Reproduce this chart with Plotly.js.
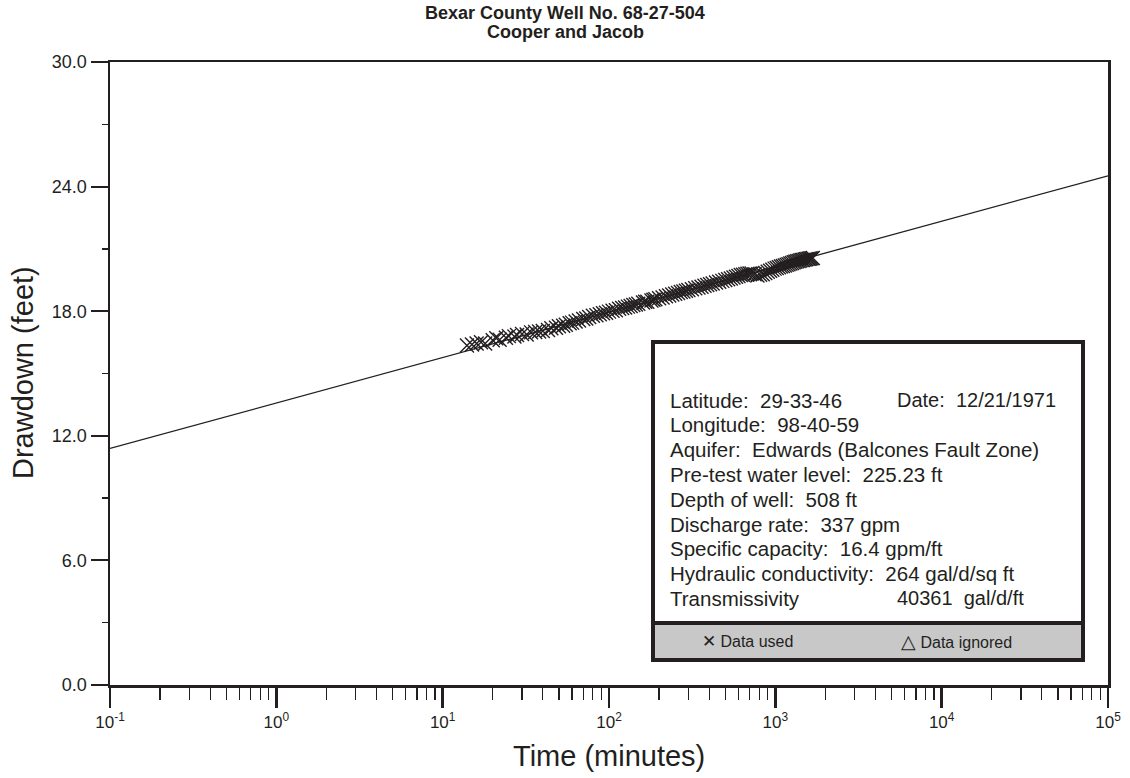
<!DOCTYPE html>
<html>
<head>
<meta charset="utf-8">
<script src="https://cdn.plot.ly/plotly-3.0.1.min.js"></script>
<style>html,body{margin:0;padding:0;background:#fff;}#chart{width:1130px;height:778px;}</style>
</head>
<body>
<div id="chart"></div>
<script>
// ---- data ----
const timeMinutes = [14,15,16,17,18,20,21,22,24,25,27,28,30,32,34,36,38,40,43,45,48,50,53,55,58,60,63,66,70,73,76,80,84,88,92,96,100,105,110,115,120,125,130,135,140,145,150,160,165,170,180,185,190,200,210,220,230,240,250,260,270,280,290,300,315,330,345,360,375,390,405,420,440,460,480,500,520,540,560,580,600,620,640,660,680,700,720,750,780,810,840,870,900,930,960,990,1020,1050,1080,1110,1140,1170,1200,1230,1260,1290,1320,1350,1380,1410,1440,1470,1500,1530,1560,1590,1620,1650,1680];
const drawdownFeet = [16.35,16.40,16.45,16.50,16.45,16.60,16.70,16.62,16.72,16.80,16.78,16.85,16.90,16.88,16.98,17.00,17.02,17.05,17.10,17.18,17.20,17.28,17.30,17.35,17.42,17.45,17.50,17.55,17.62,17.65,17.72,17.78,17.80,17.85,17.90,17.93,17.98,18.02,18.05,18.12,18.15,18.18,18.22,18.25,18.30,18.32,18.36,18.42,18.45,18.46,18.52,18.55,18.58,18.62,18.66,18.72,18.76,18.80,18.84,18.88,18.92,18.95,18.98,19.02,19.06,19.10,19.14,19.18,19.22,19.26,19.30,19.33,19.38,19.42,19.46,19.50,19.54,19.58,19.62,19.66,19.70,19.74,19.76,19.78,19.80,19.82,19.82,19.78,19.72,19.75,19.78,19.84,19.90,19.95,20.00,20.05,20.08,20.12,20.15,20.18,20.20,20.24,20.26,20.30,20.32,20.36,20.38,20.40,20.42,20.44,20.46,20.47,20.49,20.50,20.52,20.53,20.54,20.55,20.56];
const fitTimes = [0.1, 100000];
const fitDrawdown = [11.39, 24.52];
const xTickVals = [0.1, 1, 10, 100, 1000, 10000, 100000];
const xTickText = ['10<sup>-1</sup>','10<sup>0</sup>','10<sup>1</sup>','10<sup>2</sup>','10<sup>3</sup>','10<sup>4</sup>','10<sup>5</sup>'];
const yTickVals = [0, 6, 12, 18, 24, 30];
const yTickText = ['0.0','6.0','12.0','18.0','24.0','30.0'];
const titleLines = ['Bexar County Well No. 68-27-504', 'Cooper and Jacob'];
const xTitle = 'Time (minutes)';
const yTitle = 'Drawdown (feet)';
const infoLines = [
  'Latitude:  29-33-46',
  'Longitude:  98-40-59',
  'Aquifer:  Edwards (Balcones Fault Zone)',
  'Pre-test water level:  225.23 ft',
  'Depth of well:  508 ft',
  'Discharge rate:  337 gpm',
  'Specific capacity:  16.4 gpm/ft',
  'Hydraulic conductivity:  264 gal/d/sq ft',
  'Transmissivity'
];
const dateText = 'Date:  12/21/1971';
const transValue = '40361  gal/d/ft';
const legendUsed = 'Data used';
const legendIgnored = 'Data ignored';

// minor log ticks at 2..9 within each decade
const minorTickVals = [];
for (let k = -1; k < 5; k++) for (let d = 2; d <= 9; d++) minorTickVals.push(d * Math.pow(10, k));

// ---- layout helpers ----
const INK = '#231f20';
const FONT = 'Liberation Sans, Arial, Helvetica, sans-serif';
const NARROW = 'Liberation Sans Narrow, Arial Narrow, Liberation Sans, Arial, sans-serif';
const L = 110, R = 1108, T = 62, B = 685;
const px2x = p => (p - L) / (R - L);
const py2y = p => (B - p) / (B - T);

const annotations = [];
infoLines.forEach((txt, i) => {
  annotations.push({xref:'paper', yref:'paper', x: px2x(668), y: py2y(400 + i*24.8),
    xanchor:'left', yanchor:'middle', showarrow:false, text: txt,
    font:{family:FONT, size:20.5, color:INK}});
});
annotations.push({xref:'paper', yref:'paper', x: px2x(895), y: py2y(400),
  xanchor:'left', yanchor:'middle', showarrow:false, text: dateText,
  font:{family:FONT, size:20, color:INK}});
annotations.push({xref:'paper', yref:'paper', x: px2x(895), y: py2y(400 + 8*24.8),
  xanchor:'left', yanchor:'middle', showarrow:false, text: transValue,
  font:{family:FONT, size:20, color:INK}});
annotations.push({xref:'paper', yref:'paper', x: px2x(700), y: py2y(641),
  xanchor:'left', yanchor:'middle', showarrow:false,
  text: '<span style="font-size:17px">\u2715</span> ' + legendUsed,
  font:{family:FONT, size:16, color:INK}});
annotations.push({xref:'paper', yref:'paper', x: px2x(899), y: py2y(641),
  xanchor:'left', yanchor:'middle', showarrow:false,
  text: '<span style="font-size:19px">\u25B3</span> ' + legendIgnored,
  font:{family:FONT, size:16, color:INK}});
// axis titles
annotations.push({xref:'paper', yref:'paper', x: 0.5, y: py2y(756),
  xanchor:'center', yanchor:'middle', showarrow:false, text: xTitle,
  font:{family:FONT, size:29, color:INK}});
annotations.push({xref:'paper', yref:'paper', x: px2x(23), y: py2y(373),
  xanchor:'center', yanchor:'middle', showarrow:false, text: yTitle, textangle:-90,
  font:{family:FONT, size:29, color:INK}});
// chart title (two lines, tight spacing)
annotations.push({xref:'paper', yref:'paper', x: px2x(565), y: py2y(13),
  xanchor:'center', yanchor:'middle', showarrow:false, text: '<b>' + titleLines[0] + '</b>',
  font:{family:NARROW, size:18, color:INK}});
annotations.push({xref:'paper', yref:'paper', x: px2x(565), y: py2y(32),
  xanchor:'center', yanchor:'middle', showarrow:false, text: '<b>' + titleLines[1] + '</b>',
  font:{family:NARROW, size:18, color:INK}});

const shapes = [
  {type:'rect', xref:'paper', yref:'paper', x0: px2x(653), x1: px2x(1083), y0: py2y(660), y1: py2y(342),
   fillcolor:'#ffffff', line:{color:INK, width:4}},
  {type:'rect', xref:'paper', yref:'paper', x0: px2x(653), x1: px2x(1083), y0: py2y(660), y1: py2y(623),
   fillcolor:'#c8c8c8', line:{color:INK, width:4}}
];

const traces = [
  {x: fitTimes, y: fitDrawdown, type:'scatter', mode:'lines', line:{color:INK, width:1.3}, hoverinfo:'skip'},
  {x: timeMinutes, y: drawdownFeet, type:'scatter', mode:'markers',
   marker:{symbol:'x-thin-open', size:14, line:{color:INK, width:1.4}, color:INK}}
];

const layout = {
  width:1130, height:778, showlegend:false,
  paper_bgcolor:'#fff', plot_bgcolor:'#fff',
  margin:{l:L, r:1130-R, t:T, b:778-B},
  xaxis:{type:'log', range:[-1,5], showgrid:false, zeroline:false,
    showline:true, linecolor:INK, linewidth:2.5, mirror:true,
    ticks:'outside', ticklen:20, tickwidth:2.5, tickcolor:INK,
    tickvals:xTickVals, ticktext:xTickText,
    tickfont:{family:FONT, size:17, color:INK},
    minor:{tickmode:'array', tickvals:minorTickVals, ticks:'outside', ticklen:12, tickwidth:1.2, tickcolor:INK, showgrid:false}},
  yaxis:{range:[0,30], showgrid:false, zeroline:false,
    showline:true, linecolor:INK, linewidth:2.5, mirror:true,
    ticks:'outside', ticklen:17, tickwidth:2, tickcolor:INK,
    tickvals:yTickVals, ticktext:yTickText,
    tickfont:{family:FONT, size:18, color:INK},
    minor:{dtick:3, ticks:'outside', ticklen:6, tickwidth:1.3, tickcolor:INK, showgrid:false}},
  annotations: annotations,
  shapes: shapes
};

Plotly.newPlot('chart', traces, layout, {staticPlot:true, displayModeBar:false});
</script>
</body>
</html>
